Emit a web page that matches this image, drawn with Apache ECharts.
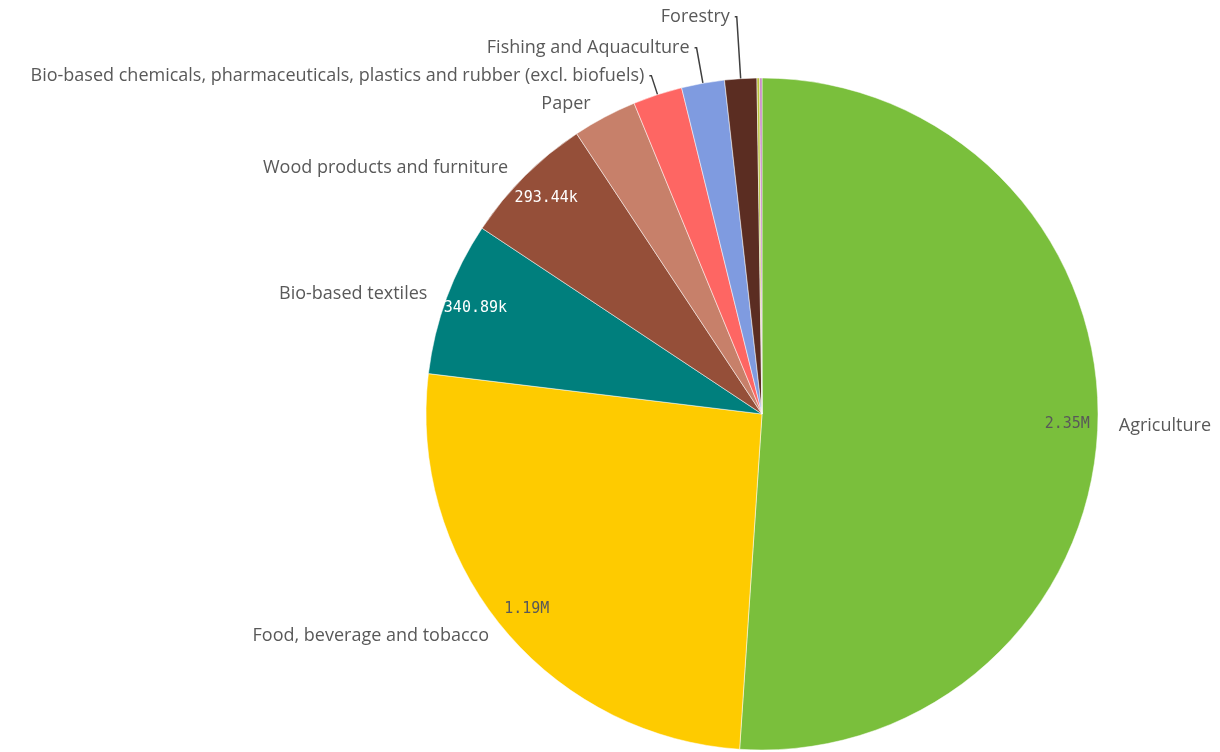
<!DOCTYPE html>
<html>
<head>
<meta charset="utf-8">
<style>
  html, body { margin: 0; padding: 0; background: #fff; }
  #chart { width: 1220px; height: 752px; }
</style>
<script src="https://cdn.jsdelivr.net/npm/echarts@6/dist/echarts.min.js"></script>
</head>
<body>
<div id="chart"></div>
<script>
// Données (emplois, secteurs de la bioéconomie)
const sectors = [
    'Agriculture',
    'Food, beverage and tobacco',
    'Bio-based textiles',
    'Wood products and furniture',
    'Paper',
    'Bio-based chemicals, pharmaceuticals, plastics and rubber (excl. biofuels)',
    'Fishing and Aquaculture',
    'Forestry',
    'Liquid biofuels',
    'Bio-based electricity'
];
const values = [2350000, 1190000, 340890, 293440, 142000, 109000, 95000, 71000, 6000, 5000];
const colors = ['#7abf3c', '#fecb00', '#007f7d', '#954f39', '#c7806a', '#fe6663', '#7f9be0', '#5b2d22', '#b9c23a', '#c47fbf'];
// seuls les grands secteurs affichent leur valeur
const showValue = [true, true, true, true, false, false, false, false, false, false];
const valueColor = ['#595959', '#595959', '#fff', '#fff'];
// longueur des traits de rappel (les petites parts sont empilées vers le haut)
const lineLength = [10, 12, 10, 12, 15, 20, 36, 62, 0, 0];
const lineLength2 = [6, 0, 5, 3, 2, 2, 2, 2, 0, 0];

function fmt(v) {
    if (v >= 1e6) return (v / 1e6).toFixed(2) + 'M';
    return (v / 1e3).toFixed(2) + 'k';
}

const dom = document.getElementById('chart');
const myChart = echarts.init(dom);

const center = [762, 414];
const radius = 336;

myChart.setOption({
    animation: false,
    color: colors,
    series: [
        {
            type: 'pie',
            center: center,
            radius: radius,
            startAngle: 90,
            clockwise: true,
            avoidLabelOverlap: false,
            itemStyle: { borderColor: '#fff', borderWidth: 0.5 },
            label: {
                show: true,
                position: 'outside',
                formatter: '{b}',
                fontFamily: 'Open Sans',
                fontSize: 18,
                color: '#595959',
                overflow: 'none'
            },
            labelLine: {
                show: true,
                lineStyle: { color: '#404040', width: 1.5 }
            },
            data: sectors.map((s, i) => ({
                name: s,
                value: values[i],
                label: { show: i < 8 },
                labelLine: {
                    show: i >= 5 && i < 8,
                    length: lineLength[i],
                    length2: lineLength2[i]
                }
            }))
        },
        {
            type: 'pie',
            center: center,
            radius: [radius * 0.8, radius],
            startAngle: 90,
            clockwise: true,
            silent: true,
            itemStyle: { color: 'transparent' },
            label: {
                show: true,
                position: 'inside',
                fontFamily: 'DejaVu Sans Mono',
                fontSize: 15
            },
            labelLine: { show: false },
            data: sectors.map((s, i) => ({
                name: s,
                value: values[i],
                label: showValue[i]
                    ? { show: true, formatter: fmt(values[i]), color: valueColor[i] }
                    : { show: false }
            }))
        }
    ]
});

window.addEventListener('resize', function () {
    myChart.resize();
});
</script>
</body>
</html>
